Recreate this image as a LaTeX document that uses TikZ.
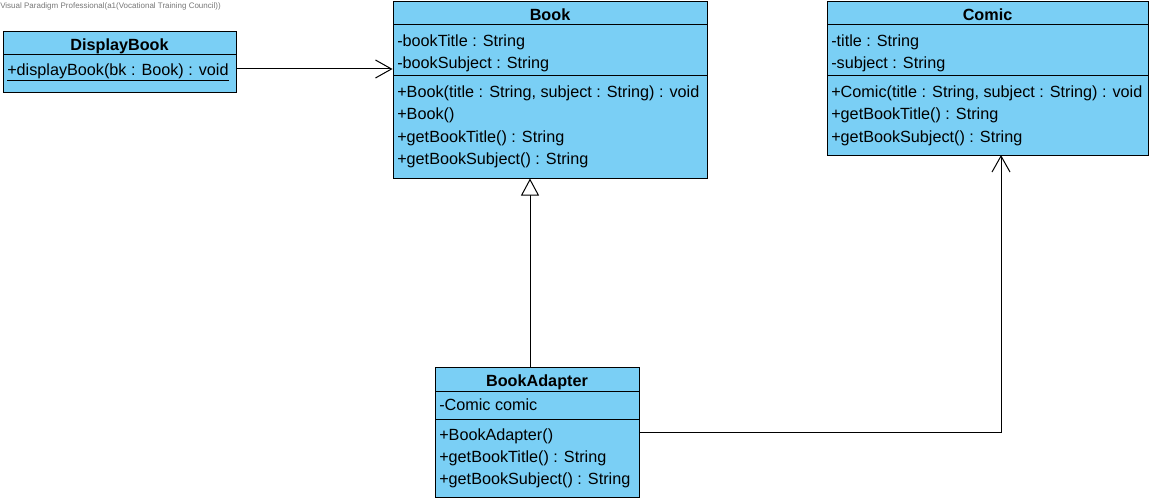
\documentclass[tikz,border=0pt]{standalone}
\usepackage{fontspec}
\setmainfont{Liberation Sans}
\usetikzlibrary{arrows.meta,fit}
\definecolor{umlblue}{RGB}{122,207,245}
\definecolor{wmgray}{RGB}{120,120,120}
\begin{document}
\begin{tikzpicture}[x=0.75pt,y=-0.75pt,
  cls/.style={draw, fill=umlblue, line width=0.75pt, inner sep=0pt},
  sep/.style={line width=0.75pt},
  txt/.style={anchor=base west, inner sep=0pt, font=\fontsize{12.15}{14}\selectfont},
  ttl/.style={anchor=base, inner sep=0pt, font=\fontsize{12.15}{14}\selectfont\bfseries},
  assoc/.style={line width=0.75pt, -{Straight Barb[length=12pt,width=13.5pt,line width=0.75pt]}},
  gen/.style={line width=0.75pt, -{Triangle[open,length=12.75pt,width=13.5pt,line width=0.75pt,fill=white]}}]
\useasboundingbox (0,0) rectangle (1155,503);
\fill[white] (0,0) rectangle (1155,503);

\node[anchor=base west, inner sep=0pt, text=wmgray, font=\fontsize{6}{7}\selectfont] (wm) at (0,9) {Visual Paradigm Professional(a1(Vocational Training Council))};

% DisplayBook
\node[cls, fit={(3,32) (236,92)}] (display) {};
\draw[sep] (3,54.5) -- (236,54.5);
\node[ttl] (displayT) at (119.5,50.7) {DisplayBook};
\node[txt] (displayM) at (7,75) {\underline{+displayBook(bk : Book) : void}};

% Book
\node[cls, fit={(393,2) (707,178)}] (book) {};
\draw[sep] (393,25) -- (707,25);
\draw[sep] (393,76) -- (707,76);
\node[ttl] (bookT) at (550,21) {Book};
\node[txt] (bookA1) at (397,46.7) {-bookTitle : String};
\node[txt] (bookA2) at (397,69) {-bookSubject : String};
\node[txt] (bookM1) at (397,97) {+Book(title : String, subject : String) : void};
\node[txt] (bookM2) at (397,119.5) {+Book()};
\node[txt] (bookM3) at (397,142) {+getBookTitle() : String};
\node[txt] (bookM4) at (397,164.5) {+getBookSubject() : String};

% Comic
\node[cls, fit={(827,2) (1148,155)}] (comic) {};
\draw[sep] (827,25) -- (1148,25);
\draw[sep] (827,76) -- (1148,76);
\node[ttl] (comicT) at (987.5,21) {Comic};
\node[txt] (comicA1) at (831,46.7) {-title : String};
\node[txt] (comicA2) at (831,69) {-subject : String};
\node[txt] (comicM1) at (831,97) {+Comic(title : String, subject : String) : void};
\node[txt] (comicM2) at (831,119.5) {+getBookTitle() : String};
\node[txt] (comicM3) at (831,142) {+getBookSubject() : String};

% BookAdapter
\node[cls, fit={(435,367) (639,497)}] (adapter) {};
\draw[sep] (435,391) -- (639,391);
\draw[sep] (435,419) -- (639,419);
\node[ttl] (adapterT) at (537,386) {BookAdapter};
\node[txt] (adapterA1) at (439,410) {-Comic comic};
\node[txt] (adapterM1) at (439,440) {+BookAdapter()};
\node[txt] (adapterM2) at (439,462.5) {+getBookTitle() : String};
\node[txt] (adapterM3) at (439,484.5) {+getBookSubject() : String};

% connectors
\coordinate (d1) at (236,69);
\draw[assoc] (d1) -- (d1 -| book.west);
\coordinate (g1) at (530,367);
\draw[gen] (g1) -- (g1 |- book.south);
\coordinate (c1) at (1001,155);
\draw[assoc] (adapter.east) -| (c1);
\end{tikzpicture}
\end{document}
